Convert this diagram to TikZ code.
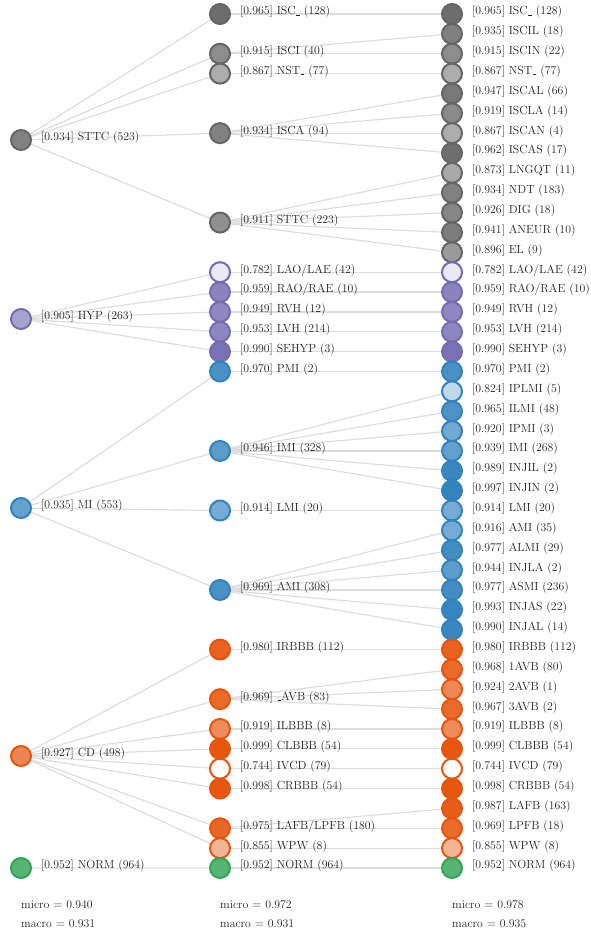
\documentclass[tikz,border=0pt]{standalone}
\usetikzlibrary{backgrounds}
\definecolor{gS}{HTML}{656565}\definecolor{gF}{HTML}{555555}
\definecolor{pS}{HTML}{756BB1}\definecolor{pF}{HTML}{756BB1}
\definecolor{bS}{HTML}{3182BD}\definecolor{bF}{HTML}{3182BD}
\definecolor{oS}{HTML}{E6550D}\definecolor{oF}{HTML}{E6550D}
\definecolor{nS}{HTML}{31A354}\definecolor{nF}{HTML}{31A354}
\definecolor{edgecol}{HTML}{DDDDDD}
\definecolor{txtcol}{HTML}{222222}
\tikzset{
  dot/.style={circle, minimum size=20pt, inner sep=0pt, line width=2pt},
  lbl/.style={anchor=west, inner sep=0pt, text=txtcol, font=\fontsize{11.8}{13}\selectfont},
  foot/.style={anchor=west, inner sep=0pt, text=txtcol, font=\fontsize{11.8}{13}\selectfont},
  edge/.style={draw=edgecol, line width=1.2pt}
}
\newcommand\uscore{\leavevmode\kern.06em\vbox{\hrule width.3em}}
\newcommand\rowy[1]{14+(#1-1)*19.86}
\newcommand\mknode[6]{%
  \pgfmathsetmacro\pct{max(0,min(100,(#5-0.744)*390.625))}%
  \node[dot, draw=#4S, fill=#4F!\pct!white] (#1) at (#2,{#3}) {};
  \node[lbl] (#1t) at ([xshift=20pt,yshift=2pt]#1.center) {[#5] #6};
}
\begin{document}
\begin{tikzpicture}[x=1pt,y=-1pt]
\useasboundingbox (0,0) rectangle (590,930);
% left column
\mknode{a1}{21}{140}{g}{0.934}{STTC (523)}
\mknode{a2}{21}{319}{p}{0.905}{HYP (263)}
\mknode{a3}{21}{508}{b}{0.935}{MI (553)}
\mknode{a4}{21}{756}{o}{0.927}{CD (498)}
\mknode{a5}{21}{868}{n}{0.952}{NORM (964)}
% middle column
\mknode{m1}{220}{\rowy{1}}{g}{0.965}{ISC\uscore{} (128)}
\mknode{m2}{220}{\rowy{3}}{g}{0.915}{ISCI (40)}
\mknode{m3}{220}{\rowy{4}}{g}{0.867}{NST\uscore{} (77)}
\mknode{m4}{220}{\rowy{7}}{g}{0.934}{ISCA (94)}
\mknode{m5}{220}{\rowy{11.5}}{g}{0.911}{STTC (223)}
\mknode{m6}{220}{\rowy{14}}{p}{0.782}{LAO/LAE (42)}
\mknode{m7}{220}{\rowy{15}}{p}{0.959}{RAO/RAE (10)}
\mknode{m8}{220}{\rowy{16}}{p}{0.949}{RVH (12)}
\mknode{m9}{220}{\rowy{17}}{p}{0.953}{LVH (214)}
\mknode{m10}{220}{\rowy{18}}{p}{0.990}{SEHYP (3)}
\mknode{m11}{220}{\rowy{19}}{b}{0.970}{PMI (2)}
\mknode{m12}{220}{\rowy{23}}{b}{0.946}{IMI (328)}
\mknode{m13}{220}{\rowy{26}}{b}{0.914}{LMI (20)}
\mknode{m14}{220}{\rowy{30}}{b}{0.969}{AMI (308)}
\mknode{m15}{220}{\rowy{33}}{o}{0.980}{IRBBB (112)}
\mknode{m16}{220}{\rowy{35.5}}{o}{0.969}{\uscore AVB (83)}
\mknode{m17}{220}{\rowy{37}}{o}{0.919}{ILBBB (8)}
\mknode{m18}{220}{\rowy{38}}{o}{0.999}{CLBBB (54)}
\mknode{m19}{220}{\rowy{39}}{o}{0.744}{IVCD (79)}
\mknode{m20}{220}{\rowy{40}}{o}{0.998}{CRBBB (54)}
\mknode{m21}{220}{\rowy{42}}{o}{0.975}{LAFB/LPFB (180)}
\mknode{m22}{220}{\rowy{43}}{o}{0.855}{WPW (8)}
\mknode{m23}{220}{\rowy{44}}{n}{0.952}{NORM (964)}
% right column
\mknode{r1}{452}{\rowy{1}}{g}{0.965}{ISC\uscore{} (128)}
\mknode{r2}{452}{\rowy{2}}{g}{0.935}{ISCIL (18)}
\mknode{r3}{452}{\rowy{3}}{g}{0.915}{ISCIN (22)}
\mknode{r4}{452}{\rowy{4}}{g}{0.867}{NST\uscore{} (77)}
\mknode{r5}{452}{\rowy{5}}{g}{0.947}{ISCAL (66)}
\mknode{r6}{452}{\rowy{6}}{g}{0.919}{ISCLA (14)}
\mknode{r7}{452}{\rowy{7}}{g}{0.867}{ISCAN (4)}
\mknode{r8}{452}{\rowy{8}}{g}{0.962}{ISCAS (17)}
\mknode{r9}{452}{\rowy{9}}{g}{0.873}{LNGQT (11)}
\mknode{r10}{452}{\rowy{10}}{g}{0.934}{NDT (183)}
\mknode{r11}{452}{\rowy{11}}{g}{0.926}{DIG (18)}
\mknode{r12}{452}{\rowy{12}}{g}{0.941}{ANEUR (10)}
\mknode{r13}{452}{\rowy{13}}{g}{0.896}{EL (9)}
\mknode{r14}{452}{\rowy{14}}{p}{0.782}{LAO/LAE (42)}
\mknode{r15}{452}{\rowy{15}}{p}{0.959}{RAO/RAE (10)}
\mknode{r16}{452}{\rowy{16}}{p}{0.949}{RVH (12)}
\mknode{r17}{452}{\rowy{17}}{p}{0.953}{LVH (214)}
\mknode{r18}{452}{\rowy{18}}{p}{0.990}{SEHYP (3)}
\mknode{r19}{452}{\rowy{19}}{b}{0.970}{PMI (2)}
\mknode{r20}{452}{\rowy{20}}{b}{0.824}{IPLMI (5)}
\mknode{r21}{452}{\rowy{21}}{b}{0.965}{ILMI (48)}
\mknode{r22}{452}{\rowy{22}}{b}{0.920}{IPMI (3)}
\mknode{r23}{452}{\rowy{23}}{b}{0.939}{IMI (268)}
\mknode{r24}{452}{\rowy{24}}{b}{0.989}{INJIL (2)}
\mknode{r25}{452}{\rowy{25}}{b}{0.997}{INJIN (2)}
\mknode{r26}{452}{\rowy{26}}{b}{0.914}{LMI (20)}
\mknode{r27}{452}{\rowy{27}}{b}{0.916}{AMI (35)}
\mknode{r28}{452}{\rowy{28}}{b}{0.977}{ALMI (29)}
\mknode{r29}{452}{\rowy{29}}{b}{0.944}{INJLA (2)}
\mknode{r30}{452}{\rowy{30}}{b}{0.977}{ASMI (236)}
\mknode{r31}{452}{\rowy{31}}{b}{0.993}{INJAS (22)}
\mknode{r32}{452}{\rowy{32}}{b}{0.990}{INJAL (14)}
\mknode{r33}{452}{\rowy{33}}{o}{0.980}{IRBBB (112)}
\mknode{r34}{452}{\rowy{34}}{o}{0.968}{1AVB (80)}
\mknode{r35}{452}{\rowy{35}}{o}{0.924}{2AVB (1)}
\mknode{r36}{452}{\rowy{36}}{o}{0.967}{3AVB (2)}
\mknode{r37}{452}{\rowy{37}}{o}{0.919}{ILBBB (8)}
\mknode{r38}{452}{\rowy{38}}{o}{0.999}{CLBBB (54)}
\mknode{r39}{452}{\rowy{39}}{o}{0.744}{IVCD (79)}
\mknode{r40}{452}{\rowy{40}}{o}{0.998}{CRBBB (54)}
\mknode{r41}{452}{\rowy{41}}{o}{0.987}{LAFB (163)}
\mknode{r42}{452}{\rowy{42}}{o}{0.969}{LPFB (18)}
\mknode{r43}{452}{\rowy{43}}{o}{0.855}{WPW (8)}
\mknode{r44}{452}{\rowy{44}}{n}{0.952}{NORM (964)}
% connectors
\begin{scope}[on background layer]
\foreach \s/\t in {a1/m1,a1/m2,a1/m3,a1/m4,a1/m5,
  a2/m6,a2/m7,a2/m8,a2/m9,a2/m10,
  a3/m11,a3/m12,a3/m13,a3/m14,
  a4/m15,a4/m16,a4/m17,a4/m18,a4/m19,a4/m20,a4/m21,a4/m22,
  a5/m23,
  m1/r1,m2/r2,m2/r3,m3/r4,m4/r5,m4/r6,m4/r7,m4/r8,
  m5/r9,m5/r10,m5/r11,m5/r12,m5/r13,
  m6/r14,m7/r15,m8/r16,m9/r17,m10/r18,m11/r19,
  m12/r20,m12/r21,m12/r22,m12/r23,m12/r24,m12/r25,
  m13/r26,m14/r27,m14/r28,m14/r29,m14/r30,m14/r31,m14/r32,
  m15/r33,m16/r34,m16/r35,m16/r36,m17/r37,m18/r38,m19/r39,m20/r40,
  m21/r41,m21/r42,m22/r43,m23/r44}
  \draw[edge] (\s.center) -- (\t.center);
\end{scope}
% footers
\node[foot] (f1a) at (21,905) {micro $=$ 0.940};
\node[foot] (f1b) at (21,924) {macro $=$ 0.931};
\node[foot] (f2a) at (220,905) {micro $=$ 0.972};
\node[foot] (f2b) at (220,924) {macro $=$ 0.931};
\node[foot] (f3a) at (452,905) {micro $=$ 0.978};
\node[foot] (f3b) at (452,924) {macro $=$ 0.935};
\end{tikzpicture}
\end{document}
